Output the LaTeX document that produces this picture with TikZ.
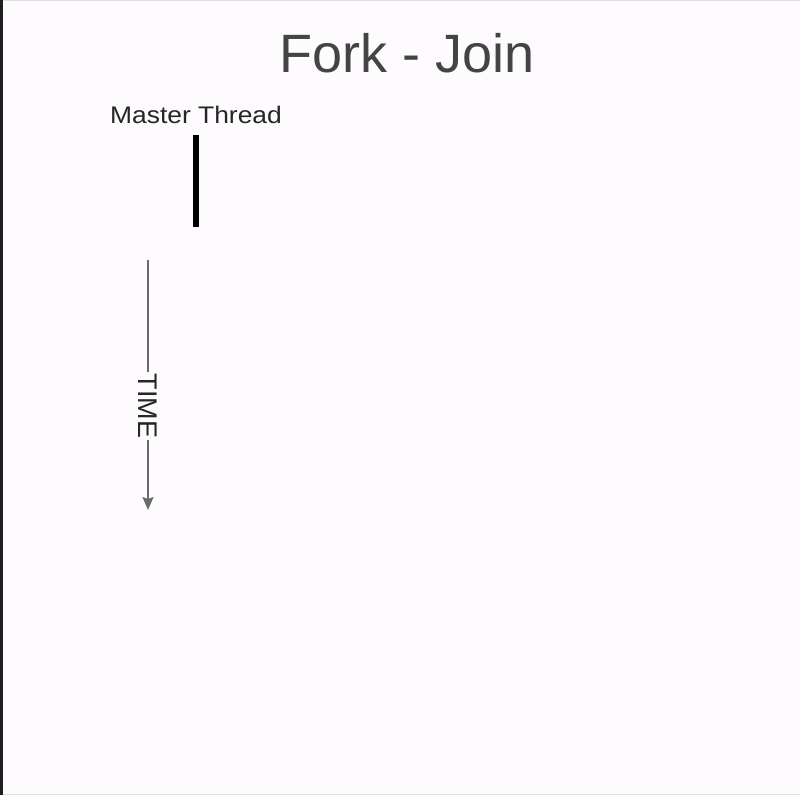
\documentclass[tikz,border=0pt]{standalone}
\usepackage{fontspec}
\setmainfont{Liberation Sans}
\usetikzlibrary{arrows.meta}
\definecolor{bgc}{HTML}{FDFBFD}
\definecolor{titlec}{HTML}{444444}
\definecolor{timec}{HTML}{6A6A6A}
\tikzset{
  titletext/.style={font=\fontsize{54}{60}\selectfont, text=titlec, inner sep=0pt, anchor=base},
  labeltext/.style={font=\fontsize{24}{28}\selectfont, text=black!85, inner sep=0pt, anchor=base},
  threadbar/.style={line width=5.5pt, black},
  timeline/.style={line width=1.8pt, timec},
}
\begin{document}
\begin{tikzpicture}[x=1pt,y=-1pt]
\useasboundingbox (0,0) rectangle (800,795);
\fill[bgc] (0,0) rectangle (800,795);
\fill[black!88] (0,0) rectangle (3,795);
\draw[black!12, line width=1pt] (3,0.5) -- (800,0.5);
\draw[black!12, line width=1pt] (3,794.5) -- (800,794.5);
\node[titletext] (title) at (407,72) {Fork - Join};
\node[labeltext, xscale=1.1] (master) at (196,123) {Master Thread};
\coordinate (bartop) at (196,135);
\coordinate (barbot) at (196,227);
\draw[threadbar] (bartop) -- (barbot);
\coordinate (tstart) at (148,260);
\coordinate (tend) at (148,510);
\node[font=\fontsize{27}{30}\selectfont, text=black!85, rotate=-90, inner sep=1.5pt] (time) at (148,406) {TIME};
\draw[timeline] (tstart) -- (time.west);
\draw[timeline, -{Stealth[length=13pt, width=11pt, inset=2pt]}] (time.east) -- (tend);
\end{tikzpicture}
\end{document}
